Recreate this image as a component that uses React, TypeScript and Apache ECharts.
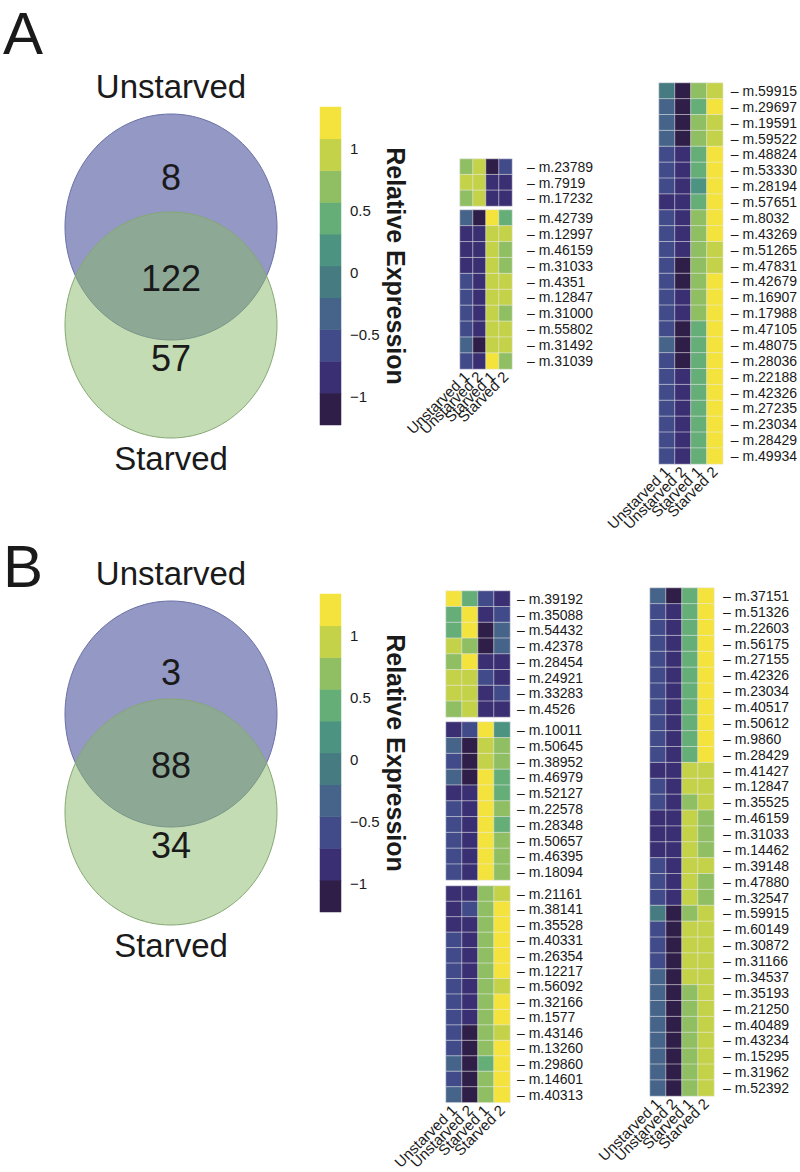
import React, { useEffect, useRef } from 'react';
import * as echarts from 'echarts';

// ---------- data ----------
const sampleLabels = ['Unstarved 1', 'Unstarved 2', 'Starved 1', 'Starved 2'];
const vennSets = ['Unstarved', 'Starved'];
const vennCountsA = [8, 122, 57];
const vennCountsB = [3, 88, 34];
const panelLetters = ['A', 'B'];
const colorTicks = [-1, -0.5, 0, 0.5, 1];
const binColors = ['#2f1e48', '#3a2f72', '#414b8a', '#466489', '#467b82', '#4d9382', '#66ae78', '#8fbf62', '#c4d24a', '#f3e33c'];
const binStart = -1.25;
const binStep = 0.25;

const aTopRows = ['m.23789', 'm.7919', 'm.17232'];
const aTopValues = [
  [0.6, 0.9, -1.1, -0.6],
  [0.9, 0.9, -0.9, -0.9],
  [0.6, 0.9, -0.9, -0.9],
];
const aMidRows = ['m.42739', 'm.12997', 'm.46159', 'm.31033', 'm.4351', 'm.12847', 'm.31000', 'm.55802', 'm.31492', 'm.31039'];
const aMidValues = [
  [-0.3, -1.1, 1.1, 0.4],
  [-0.9, -0.9, 0.9, 0.9],
  [-0.9, -0.9, 0.9, 0.6],
  [-0.9, -0.9, 0.9, 0.6],
  [-0.6, -0.9, 0.9, 0.9],
  [-0.6, -0.9, 0.9, 0.9],
  [-0.6, -0.9, 0.9, 0.6],
  [-0.6, -0.9, 0.9, 0.9],
  [-0.4, -1.1, 0.9, 0.9],
  [-0.6, -0.9, 1.1, 0.6],
];
const aBigRows = ['m.59915', 'm.29697', 'm.19591', 'm.59522', 'm.48824', 'm.53330', 'm.28194', 'm.57651', 'm.8032', 'm.43269', 'm.51265', 'm.47831', 'm.42679', 'm.16907', 'm.17988', 'm.47105', 'm.48075', 'm.28036', 'm.22188', 'm.42326', 'm.27235', 'm.23034', 'm.28429', 'm.49934'];
const aBigValues = [
  [-0.1, -1.1, 0.6, 0.9],
  [-0.4, -1.1, 0.4, 1.1],
  [-0.4, -1.1, 0.6, 0.9],
  [-0.4, -1.1, 0.6, 0.9],
  [-0.6, -0.9, 0.4, 1.1],
  [-0.6, -0.9, 0.4, 1.1],
  [-0.6, -0.9, 0.1, 1.1],
  [-0.9, -0.9, 0.4, 1.1],
  [-0.6, -0.9, 0.6, 1.1],
  [-0.6, -0.9, 0.6, 1.1],
  [-0.6, -0.9, 0.6, 0.9],
  [-0.6, -1.1, 0.6, 0.9],
  [-0.6, -1.1, 0.6, 1.1],
  [-0.6, -0.9, 0.6, 1.1],
  [-0.6, -0.9, 0.6, 1.1],
  [-0.6, -1.1, 0.4, 1.1],
  [-0.4, -1.1, 0.4, 1.1],
  [-0.6, -1.1, 0.4, 1.1],
  [-0.6, -0.9, 0.4, 1.1],
  [-0.6, -0.9, 0.4, 1.1],
  [-0.6, -0.9, 0.4, 1.1],
  [-0.6, -0.9, 0.4, 1.1],
  [-0.6, -0.9, 0.4, 1.1],
  [-0.6, -0.9, 0.4, 1.1],
];

const b1Rows = ['m.39192', 'm.35088', 'm.54432', 'm.42378', 'm.28454', 'm.24921', 'm.33283', 'm.4526'];
const b1Values = [
  [1.1, 0.4, -0.6, -0.9],
  [0.4, 1.1, -0.9, -0.6],
  [0.4, 1.1, -1.1, -0.4],
  [0.9, 0.6, -1.1, -0.4],
  [0.6, 1.1, -0.9, -0.9],
  [0.9, 0.9, -0.6, -0.9],
  [0.9, 0.9, -0.9, -0.6],
  [0.6, 0.9, -0.9, -0.9],
];
const b2Rows = ['m.10011', 'm.50645', 'm.38952', 'm.46979', 'm.52127', 'm.22578', 'm.28348', 'm.50657', 'm.46395', 'm.18094'];
const b2Values = [
  [-0.9, -0.6, 1.1, 0.1],
  [-0.4, -1.1, 0.9, 0.6],
  [-0.6, -1.1, 0.9, 0.6],
  [-0.4, -1.1, 1.1, 0.4],
  [-0.9, -0.9, 1.1, 0.4],
  [-0.6, -0.9, 1.1, 0.6],
  [-0.6, -0.9, 1.1, 0.4],
  [-0.6, -0.9, 1.1, 0.6],
  [-0.6, -0.9, 1.1, 0.6],
  [-0.6, -0.9, 1.1, 0.6],
];
const b3Rows = ['m.21161', 'm.38141', 'm.35528', 'm.40331', 'm.26354', 'm.12217', 'm.56092', 'm.32166', 'm.1577', 'm.43146', 'm.13260', 'm.29860', 'm.14601', 'm.40313'];
const b3Values = [
  [-0.9, -0.9, 0.6, 0.9],
  [-0.9, -0.6, 0.6, 1.1],
  [-0.9, -0.9, 0.6, 1.1],
  [-0.6, -0.9, 0.6, 1.1],
  [-0.6, -0.9, 0.6, 1.1],
  [-0.6, -0.9, 0.6, 1.1],
  [-0.6, -0.9, 0.6, 0.9],
  [-0.6, -0.9, 0.6, 1.1],
  [-0.6, -0.9, 0.6, 1.1],
  [-0.6, -1.1, 0.6, 0.9],
  [-0.6, -1.1, 0.6, 1.1],
  [-0.4, -1.1, 0.4, 1.1],
  [-0.6, -1.1, 0.6, 1.1],
  [-0.4, -1.1, 0.6, 1.1],
];
const bBigRows = ['m.37151', 'm.51326', 'm.22603', 'm.56175', 'm.27155', 'm.42326', 'm.23034', 'm.40517', 'm.50612', 'm.9860', 'm.28429', 'm.41427', 'm.12847', 'm.35525', 'm.46159', 'm.31033', 'm.14462', 'm.39148', 'm.47880', 'm.32547', 'm.59915', 'm.60149', 'm.30872', 'm.31166', 'm.34537', 'm.35193', 'm.21250', 'm.40489', 'm.43234', 'm.15295', 'm.31962', 'm.52392'];
const bBigValues = [
  [-0.3, -1.1, 0.4, 1.1],
  [-0.6, -0.9, 0.4, 1.1],
  [-0.6, -0.9, 0.4, 1.1],
  [-0.6, -0.9, 0.4, 1.1],
  [-0.6, -0.9, 0.4, 1.1],
  [-0.6, -0.9, 0.4, 1.1],
  [-0.6, -0.9, 0.4, 1.1],
  [-0.6, -0.9, 0.4, 1.1],
  [-0.6, -0.9, 0.4, 1.1],
  [-0.6, -0.9, 0.4, 1.1],
  [-0.6, -0.9, 0.4, 1.1],
  [-0.9, -0.9, 0.9, 0.9],
  [-0.6, -0.9, 0.9, 0.9],
  [-0.6, -0.9, 0.6, 0.9],
  [-0.9, -0.9, 0.9, 0.6],
  [-0.9, -0.9, 0.9, 0.6],
  [-0.9, -0.9, 0.9, 0.6],
  [-0.6, -0.9, 0.9, 0.9],
  [-0.6, -0.9, 0.9, 0.6],
  [-0.6, -0.9, 0.9, 0.6],
  [-0.1, -1.1, 0.6, 0.9],
  [-0.6, -1.1, 0.9, 0.9],
  [-0.6, -1.1, 0.9, 0.9],
  [-0.6, -1.1, 0.9, 0.9],
  [-0.4, -1.1, 0.9, 0.9],
  [-0.4, -1.1, 0.6, 0.9],
  [-0.4, -1.1, 0.6, 0.9],
  [-0.4, -1.1, 0.6, 0.9],
  [-0.4, -1.1, 0.6, 0.9],
  [-0.4, -1.1, 0.6, 0.9],
  [-0.4, -1.1, 0.6, 0.9],
  [-0.4, -1.1, 0.6, 0.9],
];

// ---------- layout ----------
const FONT = '"Liberation Sans", Arial, Helvetica, sans-serif';
const TEXT = '#1a1a1a';
const PANEL_B_OFFSET = 487;

const heatBlocks = [
  { rows: aTopRows, values: aTopValues, left: 460, top: 159, width: 52, height: 47, showX: false, margin: 15 },
  { rows: aMidRows, values: aMidValues, left: 460, top: 210, width: 52, height: 159, showX: true, margin: 15 },
  { rows: aBigRows, values: aBigValues, left: 659, top: 83, width: 64, height: 381, showX: true, margin: 8 },
  { rows: b1Rows, values: b1Values, left: 446, top: 591, width: 64, height: 126, showX: false, margin: 7 },
  { rows: b2Rows, values: b2Values, left: 446, top: 722, width: 64, height: 158, showX: false, margin: 7 },
  { rows: b3Rows, values: b3Values, left: 446, top: 886, width: 64, height: 222, showX: true, margin: 7 },
  { rows: bBigRows, values: bBigValues, left: 650, top: 588, width: 64, height: 508, showX: true, margin: 9 },
];

const colorbars = [
  { left: 320, top: 107, width: 21, height: 318 },
  { left: 320, top: 107 + PANEL_B_OFFSET, width: 21, height: 318 },
];

const letterTops = [3, 536];

function buildOption() {
  const grid: any[] = [];
  const xAxis: any[] = [];
  const yAxis: any[] = [];
  const series: any[] = [];
  const heatSeriesIdx: number[] = [];

  heatBlocks.forEach((b) => {
    const gi = grid.length;
    grid.push({ left: b.left, top: b.top, width: b.width, height: b.height, containLabel: false });
    const xi = xAxis.length;
    xAxis.push({
      type: 'category',
      gridIndex: gi,
      data: sampleLabels,
      axisLine: { show: false },
      axisTick: { show: false },
      splitLine: { show: false },
      axisLabel: {
        show: b.showX,
        interval: 0,
        rotate: 45,
        margin: 5,
        fontSize: 15,
        fontFamily: FONT,
        color: TEXT,
      },
    });
    const yi = yAxis.length;
    yAxis.push({
      type: 'category',
      gridIndex: gi,
      data: b.rows,
      inverse: true,
      position: 'right',
      axisLine: { show: false },
      axisTick: { show: false },
      splitLine: { show: false },
      axisLabel: {
        interval: 0,
        margin: b.margin,
        fontSize: 14,
        fontFamily: FONT,
        color: TEXT,
        formatter: (v: string) => '\u2013 ' + v,
      },
    });
    const data: any[] = [];
    b.values.forEach((row, r) => row.forEach((v, c) => data.push([c, r, v])));
    heatSeriesIdx.push(series.length);
    series.push({
      type: 'heatmap',
      xAxisIndex: xi,
      yAxisIndex: yi,
      data,
      itemStyle: { borderColor: 'rgba(235,235,235,0.55)', borderWidth: 1 },
      emphasis: { disabled: true },
    });
  });

  const binValues = binColors.map((_, k) => binStart + binStep * (k + 0.5));
  colorbars.forEach((cb) => {
    const gi = grid.length;
    grid.push({ left: cb.left, top: cb.top, width: cb.width, height: cb.height });
    const xi = xAxis.length;
    xAxis.push({ type: 'category', gridIndex: gi, data: [''], show: false });
    const yi = yAxis.length;
    yAxis.push({ type: 'category', gridIndex: gi, data: binValues.map((v) => String(v)), show: false });
    yAxis.push({
      type: 'value',
      gridIndex: gi,
      position: 'right',
      min: -1.225,
      max: 1.33,
      axisLine: { show: false },
      axisTick: { show: false },
      splitLine: { show: false },
      axisLabel: {
        customValues: colorTicks,
        margin: 9,
        fontSize: 15,
        fontFamily: FONT,
        color: TEXT,
        formatter: (v: number) => String(v).replace('-', '\u2212'),
      },
      name: 'Relative Expression',
      nameLocation: 'middle',
      nameRotate: -90,
      nameGap: 41,
      nameTextStyle: { fontSize: 25, fontWeight: 'bold', fontFamily: FONT, color: TEXT },
    });
    heatSeriesIdx.push(series.length);
    series.push({
      type: 'heatmap',
      xAxisIndex: xi,
      yAxisIndex: yi,
      data: binValues.map((v, k) => [0, k, v]),
      emphasis: { disabled: true },
    });
  });

  const pieces = binColors.map((color, k) => ({
    gte: binStart + binStep * k,
    lt: binStart + binStep * (k + 1),
    color,
  }));

  const graphic: any[] = [];
  const venns = [vennCountsA, vennCountsB];
  venns.forEach((counts, p) => {
    const dy = p * PANEL_B_OFFSET;
    const cx = 171;
    graphic.push({
      type: 'text',
      left: 3,
      top: letterTops[p],
      style: { text: panelLetters[p], font: `60px ${FONT}`, fill: TEXT },
    });
    graphic.push({
      type: 'ellipse',
      shape: { cx, cy: 227 + dy, rx: 106, ry: 113 },
      style: { fill: 'rgb(147,152,196)', stroke: '#6a70a6', lineWidth: 1 },
    });
    graphic.push({
      type: 'ellipse',
      shape: { cx, cy: 325 + dy, rx: 106, ry: 113 },
      style: { fill: 'rgba(135,186,103,0.5)', stroke: '#86a874', lineWidth: 1 },
    });
    const texts = [
      { t: vennSets[0], y: 86, size: 33 },
      { t: String(counts[0]), y: p === 0 ? 177 : 185, size: 36 },
      { t: String(counts[1]), y: 278, size: 36 },
      { t: String(counts[2]), y: 358, size: 36 },
      { t: vennSets[1], y: 458, size: 33 },
    ];
    texts.forEach((tx) => {
      graphic.push({
        type: 'text',
        x: cx,
        y: tx.y + dy,
        style: {
          text: tx.t,
          x: 0,
          y: 0,
          font: `${tx.size}px ${FONT}`,
          fill: TEXT,
          align: 'center',
          verticalAlign: 'middle',
          textAlign: 'center',
          textVerticalAlign: 'middle',
        },
      });
    });
  });

  return {
    animation: false,
    backgroundColor: '#ffffff',
    grid,
    xAxis,
    yAxis,
    visualMap: {
      type: 'piecewise',
      show: false,
      dimension: 2,
      seriesIndex: heatSeriesIdx,
      pieces,
    },
    series,
    graphic,
  };
}

export default function App() {
  const ref = useRef<HTMLDivElement>(null);
  useEffect(() => {
    document.body.style.margin = '0';
    if (!ref.current) return;
    const chart = echarts.init(ref.current, undefined, { renderer: 'svg' });
    chart.setOption(buildOption() as any);
    return () => chart.dispose();
  }, []);
  return <div ref={ref} style={{ width: 800, height: 1172 }} />;
}
